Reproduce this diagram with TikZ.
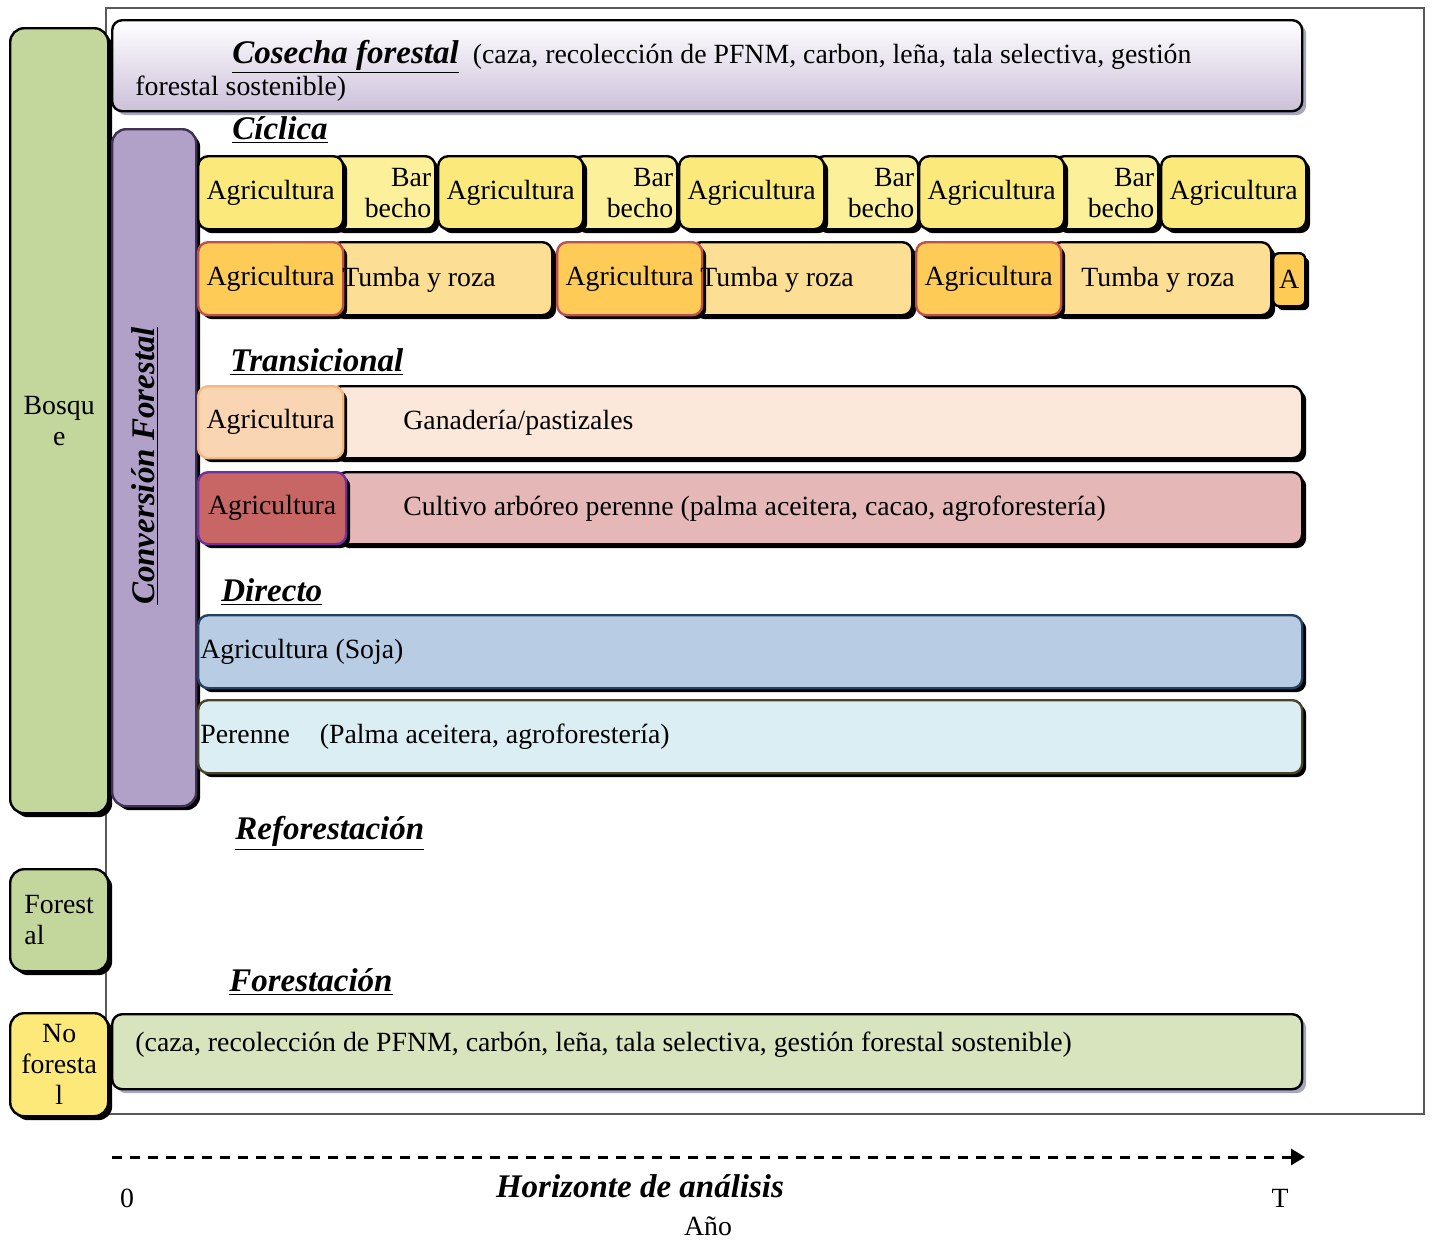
\documentclass[tikz,border=0pt]{standalone}
\usepackage{fontspec}
\setmainfont{Liberation Serif}
\usepackage{tikz}
\usetikzlibrary{positioning,arrows.meta,shadows}
\definecolor{bosque}{RGB}{195,214,155}
\definecolor{noforest}{RGB}{252,233,122}
\definecolor{cosecha}{RGB}{204,192,218}
\definecolor{convfill}{RGB}{177,160,199}
\definecolor{convline}{RGB}{63,49,81}
\definecolor{agriyel}{RGB}{251,234,123}
\definecolor{barbecho}{RGB}{253,240,155}
\definecolor{agriora}{RGB}{254,203,87}
\definecolor{agrioraline}{RGB}{192,80,77}
\definecolor{tumba}{RGB}{252,222,148}
\definecolor{agripeach}{RGB}{250,213,180}
\definecolor{agripeachline}{RGB}{247,184,128}
\definecolor{ganado}{RGB}{252,232,218}
\definecolor{agrired}{RGB}{199,102,100}
\definecolor{agriredline}{RGB}{112,48,160}
\definecolor{cultivo}{RGB}{229,184,183}
\definecolor{soja}{RGB}{184,204,228}
\definecolor{sojaline}{RGB}{37,64,97}
\definecolor{perenne}{RGB}{219,238,243}
\definecolor{perenneline}{RGB}{74,69,42}
\definecolor{forestacion}{RGB}{215,228,189}
\definecolor{lavshadow}{RGB}{166,166,191}
\definecolor{framegrey}{RGB}{89,89,89}
\newcommand{\pu}{0.5pt}
\newcommand{\secfont}{\fontsize{16.5}{19}\selectfont\bfseries\itshape}
\newcommand{\sect}[1]{{\secfont\underline{#1}}}
\tikzset{
  fig/.style={font=\fontsize{13.9}{15.5}\selectfont},
  sz/.style 2 args={minimum width=#1*\pu,minimum height=#2*\pu},
  box/.style={draw=black,line width=1.2pt,rounded corners=5pt,anchor=north west,
              inner sep=2pt,align=center,
              drop shadow={shadow xshift=2pt,shadow yshift=-2pt,fill=#1,opacity=1}},
  box/.default=black,
  sidebox/.style={box,rounded corners=7pt},
  txt/.style={inner sep=0pt,anchor=west},
  sec/.style={inner sep=0pt,anchor=west,font=\secfont},
  axis/.style={-{Triangle[length=7pt,width=8pt]},line width=1.5pt,dash pattern=on 5pt off 4pt},
}
\begin{document}
\begin{tikzpicture}[fig,x=\pu,y=-\pu]
\useasboundingbox (0,0) rectangle (1432,1243);

\node[draw=framegrey,line width=1pt,anchor=north west,inner sep=0pt,sz={1318}{1106}] (frame) at (105,7) {};

% land use at start
\node[sidebox,fill=bosque,sz={98}{785}] (bosque) at (9,27) {Bosqu\\e};
\node[sidebox,fill=bosque,sz={98}{102},align=left] (forestal) at (9,868) {Forest\\al};
\node[sidebox,fill=noforest,sz={98}{103}] (noforestal) at (9,1012) {No\\foresta\\l};

% harvest band
\node[box=lavshadow,top color=white,bottom color=cosecha,sz={1190}{91}] (cosecha) at (111,19) {};
\node[txt,anchor=base west] (cos1) at (232,63) {\sect{Cosecha forestal}\hspace{7pt}(caza, recolección de PFNM, carbon, leña, tala selectiva, gestión};
\node[txt,anchor=base west] (cos2) at (135,95) {forestal sostenible)};

\node[box,fill=convfill,draw=convline,rounded corners=7pt,sz={84}{677}] (conv) at (111,128) {};
\node[sec,anchor=center,rotate=90] (convt) at (145,466) {\underline{Conversión Forestal}};

% ciclica
\node[sec] (cic) at (232,130) {\underline{Cíclica}};
\foreach \x [count=\i] in {330,572,813,1053}
  \node[box,fill=barbecho,sz={104}{73},align=right,text width=48pt] (bar\i) at (\x,155) {Bar\\becho};
\foreach \x [count=\i] in {197,437,678,918,1160}
  \node[box,fill=agriyel,sz={145}{73}] (agc\i) at (\x,155) {Agricultura};

\foreach \x/\w [count=\i] in {330/221,690/221,1050/220}
  \node[box,fill=tumba,sz={\w}{73}] (tum\i) at (\x,241) {};
\foreach \x [count=\i] in {197,556,915}
  \node[box,fill=agriora,draw=agrioraline,sz={145}{73}] (agt\i) at (\x,241) {Agricultura};
\node[txt] (tumt1) at (342,280) {Tumba y roza};
\node[txt] (tumt2) at (700,280) {Tumba y roza};
\node[txt] (tumt3) at (1081,280) {Tumba y roza};
\node[box,fill=agriora,rounded corners=3pt,inner sep=0pt,sz={32}{53}] (aend) at (1272,252) {A};

% transicional
\node[sec] (tra) at (230,362) {\underline{Transicional}};
\node[box,fill=ganado,sz={971}{72}] (gan) at (330,385) {};
\node[box,fill=agripeach,draw=agripeachline,sz={145}{72}] (agtr1) at (197,385) {Agricultura};
\node[txt] (gant) at (403,423) {Ganadería/pastizales};

\node[box,fill=cultivo,sz={966}{72}] (cul) at (335,471) {};
\node[box,fill=agrired,draw=agriredline,sz={148}{72}] (agtr2) at (197,471) {Agricultura};
\node[txt] (cult) at (403,509) {Cultivo arbóreo perenne (palma aceitera, cacao, agroforestería)};

% directo
\node[sec] (dir) at (221,592) {\underline{Directo}};
\node[box,fill=soja,draw=sojaline,sz={1104}{73}] (soja) at (197,614) {};
\node[txt] (sojat) at (200,652) {Agricultura (Soja)};
\node[box,fill=perenne,draw=perenneline,sz={1104}{73}] (per) at (197,699) {};
\node[txt] (pert) at (200,737) {Perenne\hspace{15pt}(Palma aceitera, agroforestería)};

\node[sec] (refo) at (235,833) {\underline{Reforestación}};
\node[sec] (fores) at (229,982) {\underline{Forestación}};
\node[box=lavshadow,fill=forestacion,sz={1190}{75}] (forb) at (111,1013) {};
\node[txt] (forbt) at (135,1045) {(caza, recolección de PFNM, carbón, leña, tala selectiva, gestión forestal sostenible)};

% time axis
\coordinate (t0) at (112,1157);
\coordinate (tT) at (1305,1157);
\draw[axis] (t0) -- (tT);
\node (cero) at (127,1198) {0};
\node[font=\secfont] (horiz) at (640,1186) {Horizonte de análisis};
\node (tfin) at (1280,1198) {T};
\node (anio) at (708,1226) {Año};

\end{tikzpicture}
\end{document}
